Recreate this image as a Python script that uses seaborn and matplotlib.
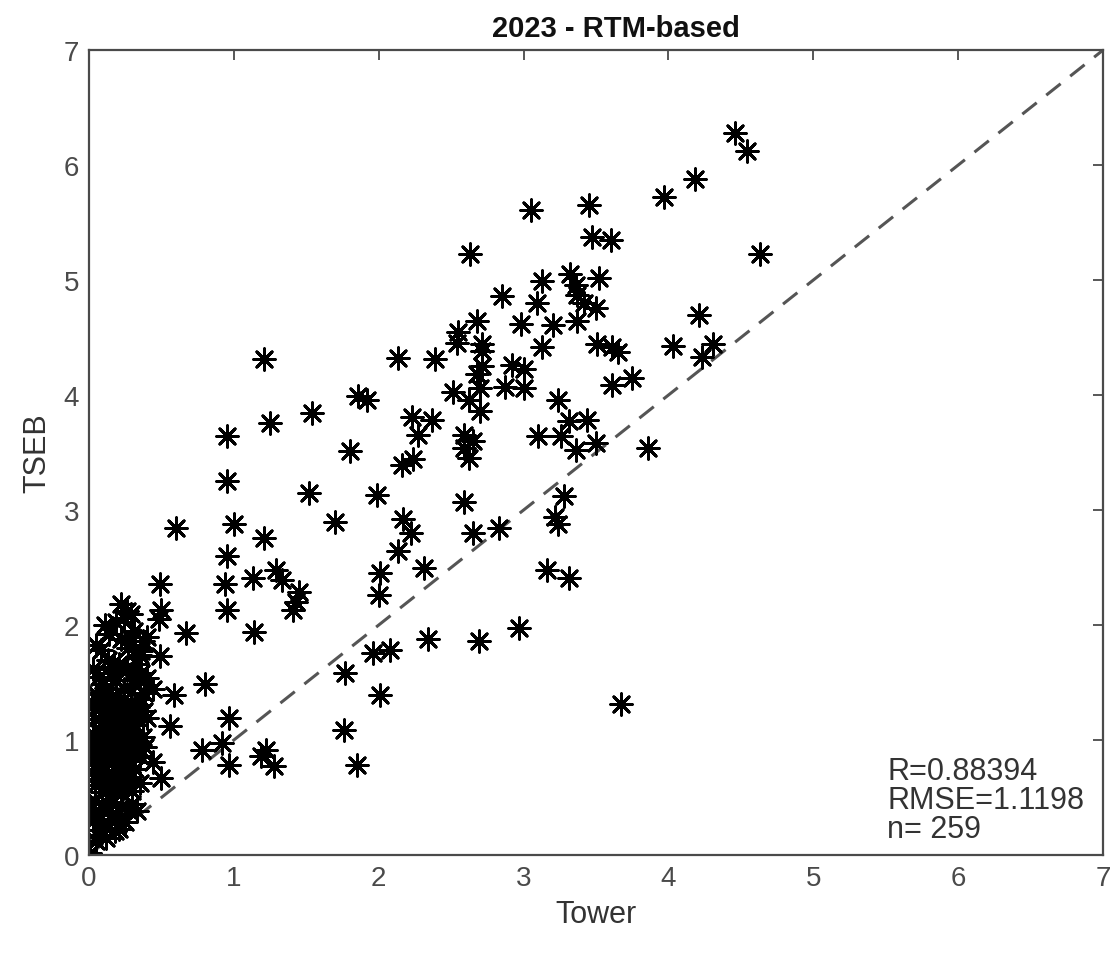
import numpy as np
import pandas as pd
import matplotlib
matplotlib.use("Agg")
import matplotlib.pyplot as plt
import seaborn as sns

# Tower vs TSEB values
tower_upper = [4.46, 4.54, 4.18, 3.97, 3.05, 3.45, 4.63, 2.63, 3.47, 3.60,
               3.32, 3.52, 3.36, 3.37, 3.42, 3.50, 3.20, 3.37, 4.21, 3.51,
               3.61, 3.65, 4.03, 4.31, 4.23, 3.61, 3.75, 3.24, 3.31, 3.44,
               3.50, 3.86, 3.26, 2.85, 3.13, 3.09, 2.68, 2.98, 2.55, 2.54,
               2.71, 3.13, 2.71, 2.13, 2.39, 1.21, 2.71, 2.92, 3.00, 2.68,
               2.70, 2.87, 3.00, 2.51, 2.62, 2.70, 1.86, 1.92, 2.23, 2.37,
               2.27, 2.59, 2.65, 2.59, 2.62, 2.16, 2.24, 3.10, 3.36, 1.80,
               1.99, 2.59, 3.28, 3.22, 3.24, 2.17, 2.22, 2.65, 2.83, 2.13,
               2.01, 2.31, 2.00, 3.16, 3.31, 0.95, 1.25, 1.54, 0.95, 1.52,
               0.60, 1.00, 1.70, 1.21, 0.95, 0.49, 0.94, 1.13, 1.29, 1.33,
               1.45, 1.43, 1.41, 0.95, 1.14, 0.50, 0.48, 0.22, 0.29, 0.26,
               0.11, 0.67, 0.05, 0.37, 0.49, 0.17, 0.35, 0.29, 0.36, 0.80,
               0.10, 0.44, 0.59, 0.97, 0.56, 1.77, 1.76, 1.96, 2.08, 1.85,
               0.92, 0.78, 0.97, 1.22, 1.19, 1.28, 0.44, 0.50, 0.33, 0.30,
               0.01, 2.97, 2.34, 2.69, 2.01, 3.67]
tseb_upper = [6.28, 6.12, 5.88, 5.72, 5.61, 5.65, 5.23, 5.23, 5.37, 5.35,
              5.05, 5.02, 4.96, 4.87, 4.80, 4.76, 4.61, 4.64, 4.70, 4.44,
              4.42, 4.37, 4.43, 4.44, 4.33, 4.09, 4.15, 3.96, 3.77, 3.78,
              3.58, 3.54, 3.64, 4.86, 4.99, 4.80, 4.64, 4.62, 4.55, 4.45,
              4.44, 4.42, 4.38, 4.32, 4.31, 4.31, 4.25, 4.26, 4.23, 4.18,
              4.06, 4.07, 4.06, 4.03, 3.96, 3.86, 3.99, 3.96, 3.81, 3.78,
              3.65, 3.65, 3.60, 3.54, 3.45, 3.39, 3.44, 3.64, 3.52, 3.51,
              3.13, 3.07, 3.12, 2.94, 2.88, 2.92, 2.80, 2.80, 2.84, 2.64,
              2.45, 2.50, 2.26, 2.48, 2.41, 3.64, 3.76, 3.84, 3.25, 3.15,
              2.84, 2.88, 2.90, 2.76, 2.60, 2.36, 2.36, 2.41, 2.48, 2.39,
              2.29, 2.20, 2.13, 2.13, 1.94, 2.13, 2.05, 2.18, 2.10, 2.12,
              2.00, 1.93, 1.83, 1.86, 1.73, 1.68, 1.74, 1.57, 1.58, 1.49,
              1.49, 1.44, 1.39, 1.19, 1.12, 1.58, 1.09, 1.76, 1.78, 0.78,
              0.97, 0.91, 0.78, 0.91, 0.86, 0.77, 0.81, 0.67, 0.38, 0.44,
              0.02, 1.97, 1.88, 1.86, 1.39, 1.31]

# dense cluster close to the origin
tower_low = [0.08, 0.14, 0.22, 0.27, 0.31, 0.40, 0.36, 0.30, 0.19, 0.24,
             0.03, 0.07, 0.12, 0.15, 0.19, 0.21, 0.24, 0.26, 0.31, 0.33,
             0.38, 0.40, 0.13, 0.05,
             0.02, 0.04, 0.06, 0.09, 0.10, 0.12, 0.14, 0.16, 0.17, 0.18,
             0.20, 0.21, 0.23, 0.24, 0.26, 0.27, 0.29, 0.30, 0.32, 0.34,
             0.36, 0.38, 0.40, 0.11, 0.19,
             0.01, 0.03, 0.05, 0.07, 0.08, 0.10, 0.11, 0.13, 0.14, 0.15,
             0.17, 0.18, 0.20, 0.21, 0.22, 0.24, 0.25, 0.27, 0.28, 0.30,
             0.31, 0.33, 0.35, 0.37, 0.39, 0.16,
             0.02, 0.04, 0.06, 0.08, 0.09, 0.11, 0.13, 0.14, 0.16, 0.18,
             0.19, 0.21, 0.23, 0.24, 0.26, 0.28, 0.30, 0.32, 0.35, 0.12,
             0.01, 0.03, 0.04, 0.06, 0.07, 0.09, 0.10, 0.12, 0.13, 0.15,
             0.16, 0.18, 0.19, 0.21, 0.22, 0.25, 0.27, 0.05]
tseb_low = [1.78, 1.92, 1.88, 1.80, 1.95, 1.90, 1.77, 1.86, 2.03, 2.06,
            1.62, 1.55, 1.45, 1.58, 1.52, 1.66, 1.44, 1.61, 1.49, 1.66,
            1.41, 1.54, 1.70, 1.40,
            1.30, 1.18, 1.35, 1.24, 1.12, 1.33, 1.20, 1.38, 1.27, 1.15,
            1.31, 1.22, 1.11, 1.36, 1.26, 1.17, 1.33, 1.21, 1.13, 1.29,
            1.36, 1.25, 1.19, 1.40, 1.09,
            0.95, 1.05, 0.86, 0.99, 0.91, 1.04, 0.83, 0.96, 1.08, 0.88,
            1.01, 0.93, 0.85, 1.06, 0.97, 0.89, 1.02, 0.94, 0.82, 1.07,
            0.90, 0.99, 0.86, 1.03, 0.94, 0.80,
            0.72, 0.61, 0.78, 0.66, 0.55, 0.74, 0.62, 0.52, 0.70, 0.59,
            0.77, 0.65, 0.54, 0.73, 0.60, 0.68, 0.56, 0.75, 0.63, 0.69,
            0.41, 0.30, 0.47, 0.22, 0.36, 0.44, 0.27, 0.15, 0.38, 0.31,
            0.46, 0.21, 0.35, 0.23, 0.42, 0.29, 0.39, 0.12]

stats_text = "R=0.88394\nRMSE=1.1198\nn= 259"

df = pd.DataFrame({"Tower": tower_upper + tower_low,
                   "TSEB": tseb_upper + tseb_low})

sns.set_style("white")
plt.rcParams["font.family"] = ["Liberation Sans", "DejaVu Sans"]

fig = plt.figure(figsize=(11.12, 9.54), dpi=100)
ax = fig.add_axes([0.080, 0.1027, 0.912, 0.8438])

grey = "#4a4a4a"
ax.plot([0, 7], [0, 7], linestyle=(0, (6, 4)), color="#555555", linewidth=2.2, zorder=1)
sns.scatterplot(data=df, x="Tower", y="TSEB", ax=ax, marker=(8, 2, 0), s=240,
                color="black", linewidths=2.1, zorder=2)

ax.set_xlim(0, 7)
ax.set_ylim(0, 7)
ax.set_xticks(range(8))
ax.set_yticks(range(8))
ax.tick_params(direction="in", length=7, width=1.3, colors=grey, labelsize=20,
               top=True, right=True, pad=7)
for sp in ax.spines.values():
    sp.set_color(grey)
    sp.set_linewidth(1.6)

ax.set_xlabel("Tower", fontsize=22, color="#333333", labelpad=6)
ax.set_ylabel("TSEB", fontsize=22, color="#333333", labelpad=8)
ax.set_title("2023 - RTM-based", fontsize=21, fontweight="bold", color="#111111",
             pad=10, x=0.52)

ax.text(5.51, 0.48, stats_text, fontsize=22, color="#333333", va="center",
        ha="left", linespacing=0.95)

fig.savefig("out.png", dpi=100)
